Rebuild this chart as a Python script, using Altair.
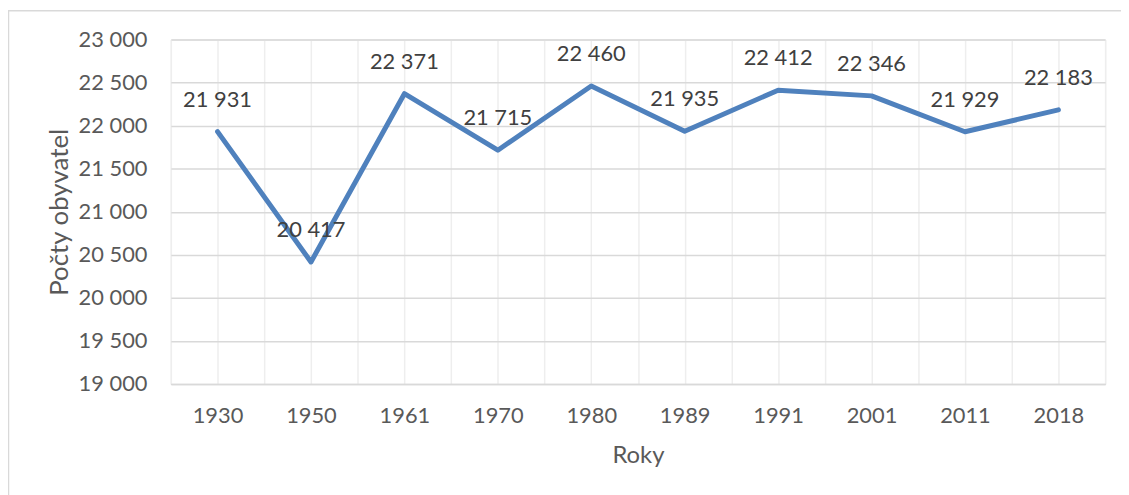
import altair as alt
import pandas as pd

years = ["1930", "1950", "1961", "1970", "1980", "1989", "1991", "2001", "2011", "2018"]
population = [21931, 20417, 22371, 21715, 22460, 21935, 22412, 22346, 21929, 22183]
y_ticks = [19000, 19500, 20000, 20500, 21000, 21500, 22000, 22500, 23000]

df = pd.DataFrame({
    "idx": list(range(len(years))),
    "rok": years,
    "pocet": population,
    "label": [f"{v:,}".replace(",", " ") for v in population],
})

FONT = "Lato"
W, H = 941, 347

x_vals = [i / 2 - 0.5 for i in range(2 * len(years) + 1)]
year_expr = "[" + ",".join(f"'{y}'" for y in years) + "]"

x_enc = alt.X(
    "idx:Q",
    scale=alt.Scale(domain=[-0.5, len(years) - 0.5], nice=False, zero=False),
    axis=alt.Axis(
        values=x_vals,
        labelExpr=f"datum.value % 1 == 0 ? {year_expr}[datum.value] : ''",
        ticks=False,
        grid=True,
        gridColor="#EEEEEE",
        gridWidth=1.5,
        domainColor="#D9D9D9",
        domainWidth=1.5,
        labelFont=FONT,
        labelFontSize=22,
        labelColor="#595959",
        labelBaseline="middle",
        labelPadding=32,
        labelFlush=False,
        labelOverlap=False,
        title="Roky",
        titleFont=FONT,
        titleFontSize=24,
        titleFontWeight="normal",
        titleColor="#595959",
        titleX=W / 2,
        titleY=72,
        titleBaseline="middle",
        titleAlign="center",
    ),
)

y_enc = alt.Y(
    "pocet:Q",
    scale=alt.Scale(domain=[19000, 23000], nice=False, zero=False),
    axis=alt.Axis(
        values=y_ticks,
        labelExpr="replace(format(datum.value, ','), ',', ' ')",
        ticks=False,
        domain=False,
        grid=True,
        gridColor="#D9D9D9",
        gridWidth=1.5,
        labelFont=FONT,
        labelFontSize=22,
        labelColor="#595959",
        labelPadding=24,
        title="Počty obyvatel",
        titleFont=FONT,
        titleFontSize=26,
        titleFontWeight="normal",
        titleColor="#595959",
        titleX=-112,
        titleY=H / 2,
        titleAngle=-90,
        titleBaseline="middle",
        titleAlign="center",
    ),
)

base = alt.Chart(df)

line = base.mark_line(color="#4F81BD", strokeWidth=5, strokeJoin="round", strokeCap="round").encode(
    x=x_enc, y=y_enc
)

labels = base.mark_text(
    font=FONT, fontSize=22, color="#404040", dy=-32, baseline="middle", align="center"
).encode(x="idx:Q", y="pocet:Q", text="label:N")

frame_df = pd.DataFrame({"a": [0]})
top_border = alt.Chart(frame_df).mark_rule(color="#D9D9D9", strokeWidth=1.5).encode(
    x=alt.value(-164), x2=alt.value(970), y=alt.value(-29)
)
left_border = alt.Chart(frame_df).mark_rule(color="#D9D9D9", strokeWidth=1.5).encode(
    x=alt.value(-163.5), y=alt.value(-29), y2=alt.value(470)
)

chart = alt.layer(top_border, left_border, line, labels).properties(
    width=W,
    height=H,
    autosize=alt.AutoSizeParams(type="none"),
    padding={"left": 164, "top": 30, "right": 16, "bottom": 110},
).configure_view(stroke=None).configure(background="white")

chart.save("out.html", embed_options={"renderer": "svg", "actions": False})
